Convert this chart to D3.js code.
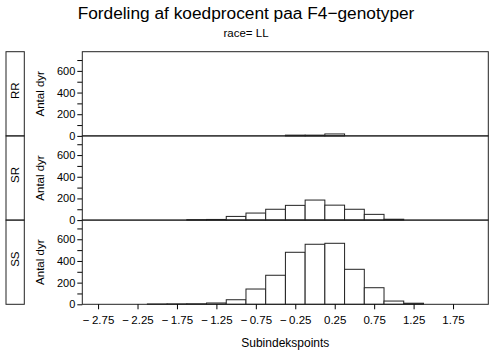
<!DOCTYPE html>
<html>
<head>
<meta charset="utf-8">
<script src="https://cdn.jsdelivr.net/npm/d3@7"></script>
<style>
body { margin: 0; background: #fff; }
svg { font-family: "Liberation Sans", Arial, sans-serif; }
</style>
</head>
<body>
<svg id="chart" width="492" height="354"></svg>
<script>
// bin midpoints (bin width 0.25)
var midpoints = [-2.0, -1.75, -1.5, -1.25, -1.0, -0.75, -0.5, -0.25, 0, 0.25, 0.5, 0.75, 1.0, 1.25, 1.5];
var panels = ["RR", "SR", "SS"];
var countsRR = [0, 0, 0, 0, 0, 0, 0, 7, 7, 18, 0, 0, 0, 0, 0];
var countsSR = [0, 0, 4, 6, 34, 65, 100, 136, 185, 138, 100, 53, 8, 0, 0];
var countsSS = [3, 4, 5, 12, 42, 141, 268, 480, 554, 563, 323, 153, 30, 10, 0];
var xTicks = [-2.75, -2.25, -1.75, -1.25, -0.75, -0.25, 0.25, 0.75, 1.25, 1.75];
var yMajor = [0, 200, 400, 600];
var yMinor = [100, 300, 500, 700];

var binWidth = 0.25;
var svg = d3.select("#chart");
// note: "top" is taken by window.top, so plotTop
var plotLeft = 82.3, plotRight = 488.3, plotTop = 51.7, panelH = 84.2;

var xscale = d3.scaleLinear().domain([-2.95, 2.197]).range([plotLeft, plotRight]);
var yscale = d3.scaleLinear().domain([0, 777]).range([panelH, 0]);

var allCounts = {RR: countsRR, SR: countsSR, SS: countsSS};

// title
svg.append("text")
    .attr("x", 246).attr("y", 19)
    .attr("text-anchor", "middle")
    .attr("font-size", 17.3)
    .text("Fordeling af koedprocent paa F4\u2212genotyper");
svg.append("text")
    .attr("x", 246).attr("y", 37)
    .attr("text-anchor", "middle")
    .attr("font-size", 11.5)
    .text("race= LL");

function draw_panel(name, i) {
    var y0 = plotTop + i * panelH;
    var g = svg.append("g").attr("transform", "translate(0," + y0 + ")");
    var data = midpoints.map(function(m, j) { return {mid: m, n: allCounts[name][j]}; })
        .filter(function(d) { return d.n > 0; });

    g.selectAll("rect.bar")
        .data(data)
        .enter().append("rect")
        .attr("class", "bar")
        .attr("x", function(d) { return xscale(d.mid - binWidth / 2); })
        .attr("width", function(d) { return xscale(d.mid + binWidth / 2) - xscale(d.mid - binWidth / 2); })
        .attr("y", function(d) { return yscale(d.n); })
        .attr("height", function(d) { return yscale(0) - yscale(d.n); })
        .attr("fill", "#fff")
        .attr("stroke", "#222")
        .attr("stroke-width", 1);

    // y axis
    var yAxis = d3.axisLeft(yscale).tickValues(yMajor).tickSize(5).tickSizeOuter(0);
    var ya = g.append("g")
        .attr("transform", "translate(" + plotLeft + ",0)")
        .call(yAxis);
    ya.select(".domain").remove();
    ya.selectAll("text")
        .attr("font-family", "'Liberation Sans Narrow', 'Liberation Sans', sans-serif")
        .attr("font-size", 11)
        .attr("fill", "#000")
        .attr("x", -7);
    g.append("g")
        .attr("transform", "translate(" + plotLeft + ",0)")
        .call(d3.axisLeft(yscale).tickValues(yMinor).tickSize(5).tickFormat(""))
        .select(".domain").remove();

    // axis label
    g.append("text")
        .attr("transform", "translate(40," + (panelH / 2) + ") rotate(-90)")
        .attr("dy", "0.35em")
        .attr("text-anchor", "middle")
        .attr("font-size", 11.5)
        .text("Antal dyr");

    // row label box
    g.append("rect")
        .attr("x", 6).attr("y", 0)
        .attr("width", 18.3).attr("height", panelH)
        .attr("fill", "none").attr("stroke", "#222");
    g.append("text")
        .attr("transform", "translate(15," + (panelH / 2 - 3) + ") rotate(-90)")
        .attr("dy", "0.35em")
        .attr("text-anchor", "middle")
        .attr("font-size", 11.5)
        .text(name);

    // panel frame
    g.append("rect")
        .attr("x", plotLeft).attr("y", 0)
        .attr("width", plotRight - plotLeft).attr("height", panelH)
        .attr("fill", "none").attr("stroke", "#222");
}
panels.forEach(draw_panel);

// x axis
var xAxis = d3.axisBottom(xscale)
    .tickValues(xTicks)
    .tickSize(5)
    .tickSizeOuter(0)
    .tickFormat(function(d) { return (d < 0 ? "\u2212\u2009" : "") + Math.abs(d).toFixed(2); });
var xa = svg.append("g")
    .attr("transform", "translate(0," + (plotTop + 3 * panelH) + ")")
    .call(xAxis);
xa.select(".domain").remove();
xa.selectAll("text").attr("font-size", 11.5).attr("fill", "#000").attr("dy", "1.05em");

svg.append("text")
    .attr("x", (plotLeft + plotRight) / 2).attr("y", 347)
    .attr("text-anchor", "middle")
    .attr("font-size", 12)
    .text("Subindekspoints");
</script>
</body>
</html>
